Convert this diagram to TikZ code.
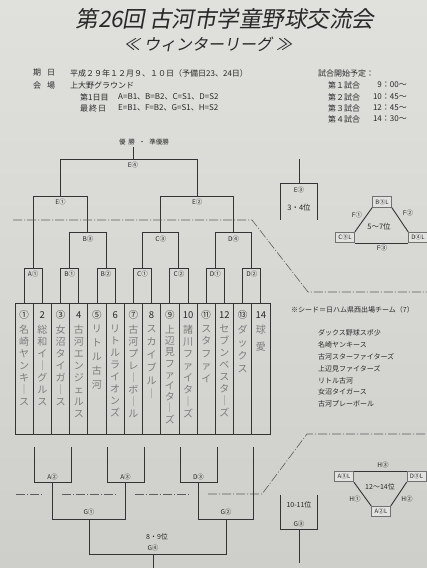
\documentclass[tikz,border=0pt]{standalone}
\usepackage{fontspec}
\setmainfont{Noto Sans CJK JP}
\newfontfamily\ttlf[FakeSlant=0.18]{Noto Sans CJK JP}
\definecolor{bgtop}{RGB}{224,224,220}
\definecolor{bgbot}{RGB}{206,206,202}
\definecolor{lnc}{RGB}{52,52,52}
\definecolor{txc}{RGB}{40,40,40}
\definecolor{hwc}{RGB}{125,125,125}
\definecolor{boxf}{RGB}{226,226,223}
\newcommand{\fs}[1]{\fontsize{#1}{#1}\selectfont}
\tikzset{
  ln/.style={draw=lnc, line width=0.9pt},
  grid/.style={draw=lnc, line width=0.8pt},
  dd/.style={draw=lnc!80, line width=0.6pt, dash pattern=on 9pt off 2pt on 1pt off 2pt},
  lbl/.style={inner sep=0, text=txc, font=\fs{6.5}},
  info/.style={inner sep=0, text=txc, font=\fs{8}, anchor=west},
  seed/.style={inner sep=0, text=txc, font=\fs{7}, anchor=west},
  num/.style={inner sep=0, text=txc, font=\fs{9.5}},
  vn/.style={inner sep=0, text=hwc, anchor=north, align=center, font=\fontsize{10}{12}\selectfont},
  sbox/.style={draw=lnc!70, fill=boxf, line width=0.6pt, inner sep=0.5pt, minimum width=19pt, minimum height=10.5pt, text=txc, font=\fs{6}},
}
\begin{document}
\begin{tikzpicture}[x=1pt,y=-1pt]
\shade[top color=bgtop, bottom color=bgbot] (0,0) rectangle (427,568);
\useasboundingbox (0,0) rectangle (427,568);

% ---- title ----
\node[inner sep=0, text=txc, font=\ttlf\fs{22.5}] (title) at (225,19) {第26回\hspace{4pt}古河市学童野球交流会};
\node[inner sep=0, text=txc, font=\ttlf\fs{16}] (sub) at (208,44) {≪\hspace{4pt}ウィンターリーグ\hspace{4pt}≫};

% ---- info ----
\node[info] (i1) at (33,73) {期\hspace{6pt}日};
\node[info] (i2) at (70,73) {平成２９年１２月９、１０日（予備日23、24日）};
\node[info] (i3) at (33,85) {会\hspace{6pt}場};
\node[info] (i4) at (70,85) {上大野グラウンド};
\node[info] (i5) at (80,97) {第1日目};
\node[info] (i6) at (118,97) {A=B1、B=B2、C=S1、D=S2};
\node[info] (i7) at (80,108) {最\hspace{1pt}終\hspace{1pt}日};
\node[info] (i8) at (118,108) {E=B1、F=B2、G=S1、H=S2};

\node[info] (s0) at (318,73) {試合開始予定：};
\node[info] (s1) at (328,85) {第１試合};
\node[info] (s2) at (328,97) {第２試合};
\node[info] (s3) at (328,108) {第３試合};
\node[info] (s4) at (328,119) {第４試合};
\node[info, anchor=east] (t1) at (407,85) {9：00～};
\node[info, anchor=east] (t2) at (407,97) {10：45～};
\node[info, anchor=east] (t3) at (407,108) {12：45～};
\node[info, anchor=east] (t4) at (407,119) {14：30～};

% ---- upper bracket ----
\node[lbl, font=\fs{6.5}] (champ) at (144,142) {優\hspace{3pt}勝\hspace{4pt}・\hspace{4pt}準優勝};
\draw[ln] (133,147) -- (133,159);
\draw[ln] (60.5,196) -- (60.5,159) -- (197.2,159) -- (197.2,196);
\node[lbl] (e4) at (133,165) {E④};
% E1
\draw[ln] (33.2,268) -- (33.2,196) -- (87.9,196) -- (87.9,232);
\node[lbl] (e1) at (60.5,202) {E①};
% E2
\draw[ln] (160.7,232) -- (160.7,196) -- (233.6,196) -- (233.6,232);
\node[lbl] (e2) at (197.2,202) {E②};
% B3, C3, D4
\draw[ln] (69.6,268) -- (69.6,232) -- (106.1,232) -- (106.1,268);
\node[lbl] (b3) at (87.9,239) {B③};
\draw[ln] (142.5,268) -- (142.5,232) -- (178.9,232) -- (178.9,268);
\node[lbl] (c3) at (160.7,239) {C③};
\draw[ln] (215.4,268) -- (215.4,232) -- (251.8,232) -- (251.8,268);
\node[lbl] (d4) at (233.6,239) {D④};
% first round
\foreach \a/\b/\t/\n in {24.11/42.32/A①/a1, 60.54/78.75/B①/b1, 96.96/115.18/B②/b2, 133.39/151.61/C①/c1, 169.82/188.04/C②/c2, 206.25/224.46/D①/d1, 242.68/260.89/D②/d2}{
  \draw[ln] (\a,303) -- (\a,268) -- (\b,268) -- (\b,303);
  \node[lbl] (\n) at ({(\a+\b)/2},274) {\t};
}

% ---- team columns ----
\draw[grid] (15,303) rectangle (270,434);
\foreach \i in {1,...,13}{ \draw[grid] ({15+18.214*\i},303) -- ({15+18.214*\i},434); }
\foreach \i/\t in {1/①,2/2,3/③,4/4,5/⑤,6/6,7/⑦,8/8,9/⑨,10/10,11/⑪,12/12,13/⑬,14/14}{
  \node[num] (n\i) at ({15+18.214*(\i-0.5)},315) {\t};
}
\node[vn] (h1) at (24.11,325) {名\\崎\\ヤ\\ン\\キ\\｜\\ス};
\node[vn] (h2) at (42.32,325) {総\\和\\イ\\｜\\グ\\ル\\ス};
\node[vn] (h3) at (60.54,325) {女\\沼\\タ\\イ\\ガ\\｜\\ス};
\node[vn] (h4) at (78.75,325) {古\\河\\エ\\ン\\ジ\\ェ\\ル\\ス};
\node[vn, font=\fontsize{10}{14}\selectfont] (h5) at (96.96,325) {リ\\ト\\ル\\古\\河};
\node[vn] (h6) at (115.18,325) {リ\\ト\\ル\\ラ\\イ\\オ\\ン\\ズ};
\node[vn] (h7) at (133.39,325) {古\\河\\プ\\レ\\｜\\ボ\\｜\\ル};
\node[vn, font=\fontsize{10}{13}\selectfont] (h8) at (151.61,325) {ス\\カ\\イ\\ブ\\ル\\｜};
\node[vn, font=\fontsize{10}{11.2}\selectfont] (h9) at (169.82,325) {上\\辺\\見\\フ\\ァ\\イ\\タ\\｜\\ズ};
\node[vn] (h10) at (188.04,325) {諸\\川\\フ\\ァ\\イ\\タ\\｜\\ズ};
\node[vn, font=\fontsize{10}{12.5}\selectfont] (h11) at (206.25,325) {ス\\タ\\フ\\ァ\\イ};
\node[vn] (h12) at (224.46,325) {セ\\ブ\\ン\\ベ\\ス\\タ\\｜\\ズ};
\node[vn, font=\fontsize{10}{13}\selectfont] (h13) at (242.68,325) {ダ\\ッ\\ク\\ス};
\node[vn, font=\fontsize{10}{17}\selectfont] (h14) at (260.89,325) {球\\愛};

% ---- seed list ----
\node[seed] (sd0) at (291,310) {※シード＝日ハム県西出場チーム（7）};
\node[seed] (sd1) at (318,333) {ダックス野球スポ少};
\node[seed] (sd2) at (318,345) {名崎ヤンキース};
\node[seed] (sd3) at (318,357) {古河スターファイターズ};
\node[seed] (sd4) at (318,369) {上辺見ファイターズ};
\node[seed] (sd5) at (318,381) {リトル古河};
\node[seed] (sd6) at (318,392) {女沼タイガース};
\node[seed] (sd7) at (318,404) {古河プレーボール};

% ---- dash-dot dividers ----
\draw[dd] (13,220) -- (252,220) -- (308,292) -- (427,292);
\draw[dd] (16,494) -- (43,494);
\draw[dd] (62,494) -- (116,494);
\draw[dd] (135,494) -- (190,494);
\draw[dd] (208,494) -- (262,494) -- (307,434) -- (427,434);

% ---- 3-4 ----
\draw[ln] (299,159) -- (299,183);
\draw[ln] (280,220) -- (280,183) -- (317,183) -- (317,220);
\node[lbl] (e3) at (299,190) {E③};
\node[lbl, font=\fs{7.5}] (p34) at (299,208) {3・4位};

% ---- 5-7 ----
\node[sbox] (bb3) at (382,202) {B③L};
\node[sbox] (cc3) at (345,237.5) {C③L};
\node[sbox] (dd4) at (418,237.5) {D④L};
\draw[ln] (bb3.south west) -- (cc3.north east);
\draw[ln] (bb3.south east) -- (dd4.north west);
\draw[ln] (cc3.south east) -- (dd4.south west);
\node[lbl] (f1) at (357,215) {F①};
\node[lbl] (f2) at (408,213) {F②};
\node[lbl] (f3) at (382,248.5) {F③};
\node[lbl, font=\fs{7.5}] (p57) at (379,227) {5～7位};

% ---- lower bracket ----
\draw[ln] (34,447) -- (34,482) -- (71,482) -- (71,447);
\node[lbl] (a2) at (52.5,477) {A②};
\draw[ln] (107,447) -- (107,482) -- (144,482) -- (144,447);
\node[lbl] (a3) at (125.5,477) {A③};
\draw[ln] (180,447) -- (180,482) -- (217,482) -- (217,447);
\node[lbl] (d3) at (198.5,477) {D③};
\draw[ln] (52.5,482) -- (52.5,519) -- (125.5,519) -- (125.5,482);
\node[lbl] (g1) at (89,512) {G①};
\draw[ln] (198.5,482) -- (198.5,519) -- (253,519) -- (253,447);
\node[lbl] (g2) at (226,512) {G②};
\draw[ln] (89,519) -- (89,554) -- (226,554) -- (226,519);
\node[lbl, font=\fs{7}] (p89) at (157,537) {8・9位};
\node[lbl] (g4) at (153,548) {G④};
\draw[ln] (153,554) -- (153,568);

% ---- 10-11 ----
\draw[ln] (280,495) -- (280,529) -- (317,529) -- (317,495);
\draw[ln] (299,529) -- (299,563);
\node[lbl, font=\fs{7}] (p1011) at (299,505) {10-11位};
\node[lbl] (g3) at (299,524) {G③};

% ---- 12-14 ----
\node[sbox] (aa3) at (344,476.5) {A③L};
\node[sbox] (dd3) at (416.5,476.5) {D③L};
\node[sbox] (aa2) at (381,511.5) {A②L};
\draw[ln] (aa3.north east) -- (dd3.north west);
\draw[ln] (aa3.south east) -- (aa2.north west);
\draw[ln] (dd3.south west) -- (aa2.north east);
\node[lbl] (h3l) at (383,465) {H③};
\node[lbl] (h1l) at (355,499) {H①};
\node[lbl] (h2l) at (407,499) {H②};
\node[lbl, font=\fs{7}] (p1214) at (380,487) {12～14位};
\end{tikzpicture}
\end{document}
